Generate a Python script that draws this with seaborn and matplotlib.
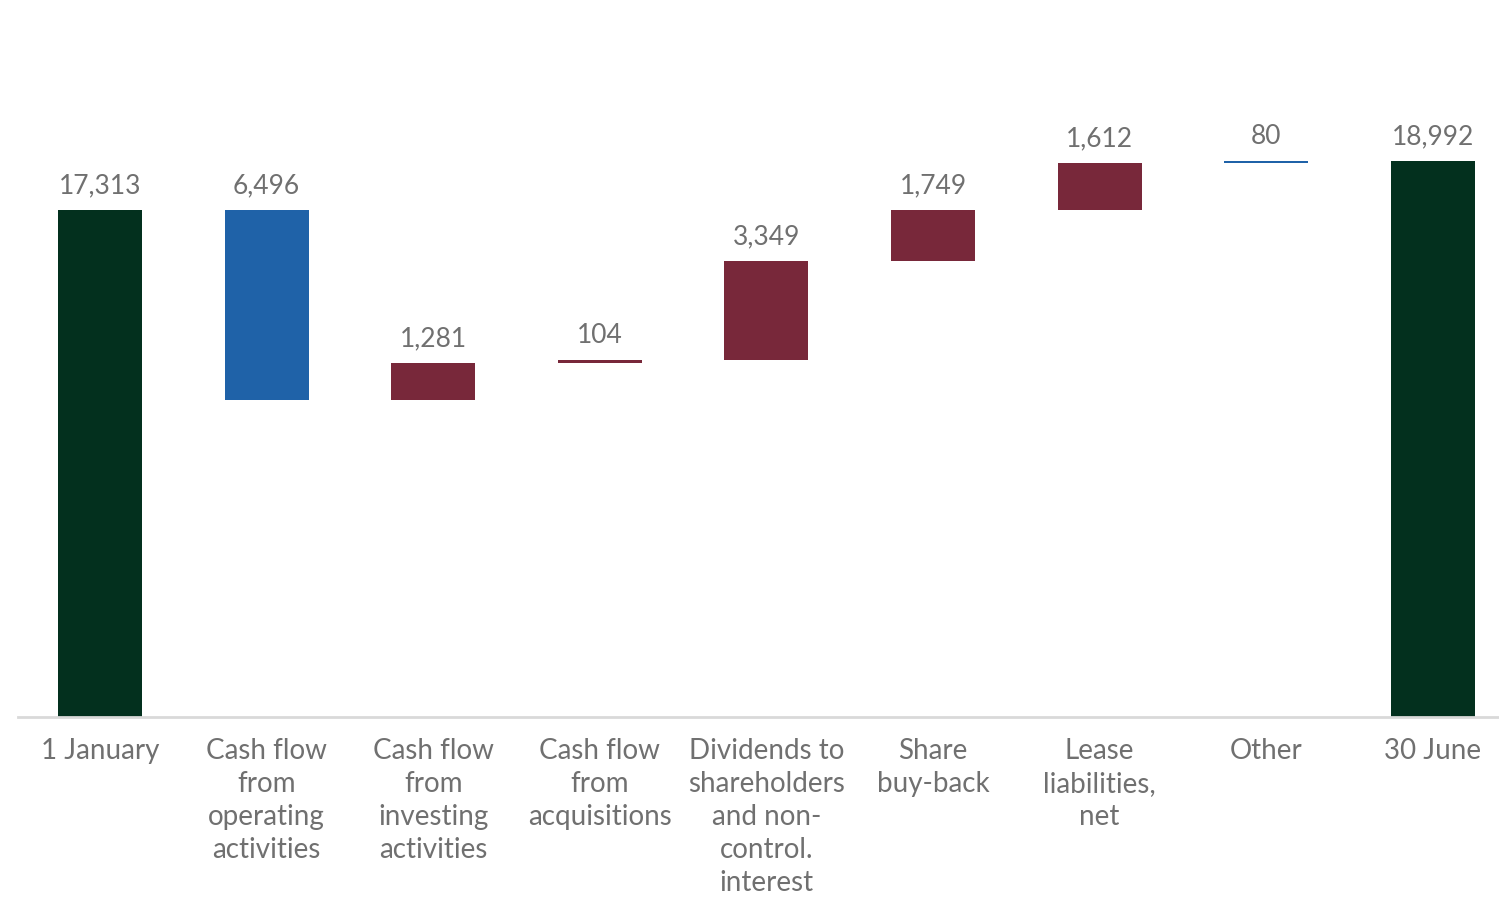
import matplotlib
matplotlib.use("Agg")
import matplotlib.pyplot as plt
import seaborn as sns
import numpy as np

# Data (waterfall: net debt movement)
categories = ["1 January", "Cash flow\nfrom\noperating\nactivities",
              "Cash flow\nfrom\ninvesting\nactivities", "Cash flow\nfrom\nacquisitions",
              "Dividends to\nshareholders\nand non-\ncontrol.\ninterest",
              "Share\nbuy-back", "Lease\nliabilities,\nnet", "Other", "30 June"]
changes = [17313, -6496, 1281, 104, 3349, 1749, 1612, 80, 18992]
kinds = ["total", "down", "up", "up", "up", "up", "up", "down_other", "total"]

COLORS = {"total": "#03301E", "down": "#1F62A8", "up": "#78283A", "down_other": "#1F62A8"}
TEXT = "#707070"

# cumulative tops / bottoms
tops, bottoms = [], []
level = 0
for val, kind in zip(changes, kinds):
    if kind == "total":
        tops.append(val)
        bottoms.append(0)
        level = val
    else:
        new = level + val
        tops.append(max(level, new))
        bottoms.append(min(level, new))
        level = new

sns.set_style("white")
plt.rcParams["font.family"] = ["Lato", "DejaVu Sans"]

fig = plt.figure(figsize=(14.99, 8.97), dpi=100)
ax = fig.add_axes([18 / 1499, 180 / 897, 1 - 18 / 1499, (717 - 14) / 897])

x_ids = [str(i) for i in range(len(categories))]
palette = {x: COLORS[k] for x, k in zip(x_ids, kinds)}
sns.barplot(x=x_ids, y=tops, hue=x_ids, palette=palette, legend=False,
            width=0.505, saturation=1, linewidth=0, ax=ax)
# mask lower part of floating bars
sns.barplot(x=x_ids, y=bottoms, color="white", width=0.505, saturation=1,
            linewidth=0, ax=ax)

for i, (val, top) in enumerate(zip(changes, tops)):
    ax.text(i, top + 400, f"{abs(val):,}", ha="center", va="bottom",
            fontsize=19, color=TEXT)

ax.set_xlim(-0.492, 8.397)
ax.set_ylim(0, 24000)
ax.set_xticks(range(len(categories)))
ax.set_xticklabels(categories, fontsize=20, color=TEXT, linespacing=1.33,
                   multialignment="center")
ax.tick_params(axis="x", length=0, pad=15)
ax.set_yticks([])
ax.set_xlabel("")
ax.set_ylabel("")
for s in ["left", "right", "top"]:
    ax.spines[s].set_visible(False)
ax.spines["bottom"].set_color("#D9D9D9")
ax.spines["bottom"].set_linewidth(2)

fig.savefig("out.png", dpi=100, facecolor="white")
